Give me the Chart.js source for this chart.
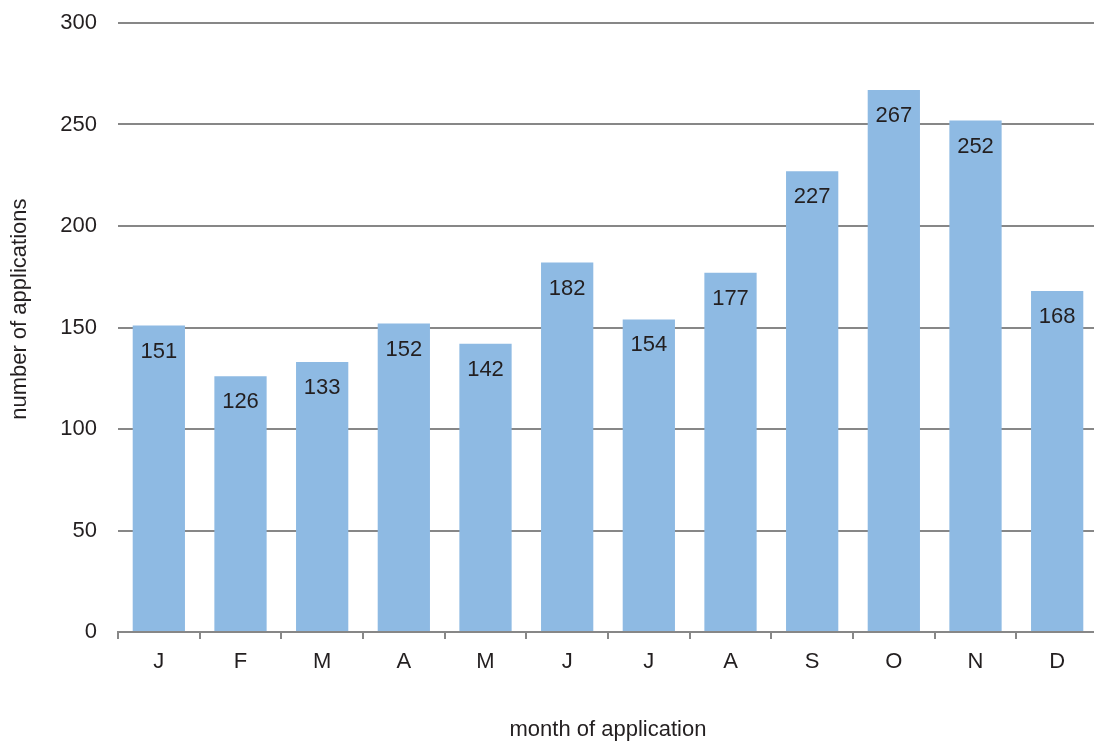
<!DOCTYPE html>
<html>
<head>
<meta charset="utf-8">
<script src="https://cdn.jsdelivr.net/npm/chart.js@4.4.0/dist/chart.umd.min.js"></script>
<style>
    html, body { margin: 0; padding: 0; background: #fff; overflow: hidden; }
    #wrap { width: 1098px; height: 743px; }
</style>
</head>
<body>
<div id="wrap"><canvas id="appChart" width="1098" height="743"></canvas></div>
<script>
const months = ["J", "F", "M", "A", "M", "J", "J", "A", "S", "O", "N", "D"];
const applications = [151, 126, 133, 152, 142, 182, 154, 177, 227, 267, 252, 168];
const yTicks = [0, 50, 100, 150, 200, 250, 300];

const textColor = "#231f20";
const fontFamily = "'Liberation Sans', Arial, Helvetica, sans-serif";
const fontSize = 22;

// value labels inside the top of each bar
const barLabels = {
    id: 'barLabels',
    afterDatasetsDraw(chart) {
        const ctx = chart.ctx;
        const meta = chart.getDatasetMeta(0);
        ctx.save();
        ctx.font = fontSize + "px " + fontFamily;
        ctx.fillStyle = textColor;
        ctx.textAlign = "center";
        ctx.textBaseline = "middle";
        meta.data.forEach((bar, i) => {
            ctx.fillText(String(applications[i]), bar.x, bar.y + 26);
        });
        ctx.restore();
    }
};

new Chart(document.getElementById('appChart'), {
    type: 'bar',
    data: {
        labels: months,
        datasets: [{
            data: applications,
            backgroundColor: "#8ebae3",
            borderWidth: 0,
            categoryPercentage: 1,
            barPercentage: 0.64
        }]
    },
    options: {
        responsive: false,
        animation: false,
        devicePixelRatio: 1,
        layout: { padding: { top: 23, right: 0, bottom: 0, left: 0 } },
        plugins: {
            legend: { display: false },
            tooltip: { enabled: false }
        },
        scales: {
            x: {
                afterFit: (scale) => { scale.height = 111; },
                grid: {
                    offset: true,
                    drawOnChartArea: false,
                    drawTicks: true,
                    tickLength: 7,
                    color: "#878787",
                    lineWidth: 2
                },
                border: { display: true, color: "#878787", width: 2 },
                ticks: {
                    color: textColor,
                    font: { size: fontSize, family: fontFamily },
                    padding: 10,
                    maxRotation: 0
                },
                title: {
                    display: true,
                    text: "month of application",
                    color: textColor,
                    font: { size: fontSize, family: fontFamily },
                    padding: { top: 0, bottom: 0 }
                }
            },
            y: {
                min: 0,
                max: 300,
                afterFit: (scale) => {
                    scale.width = 118;
                    scale.paddingTop = 0;
                    scale.paddingBottom = 0;
                },
                afterBuildTicks: (scale) => { scale.ticks = yTicks.map(v => ({ value: v })); },
                grid: {
                    drawTicks: false,
                    color: (c) => c.tick && c.tick.value === 0 ? "rgba(0,0,0,0)" : "#878787",
                    lineWidth: 2
                },
                border: { display: false },
                ticks: {
                    color: textColor,
                    font: { size: fontSize, family: fontFamily },
                    padding: 21
                },
                title: {
                    display: true,
                    text: "      number of applications",
                    color: textColor,
                    font: { size: fontSize, family: fontFamily },
                    padding: { top: 7, bottom: 0 }
                }
            }
        }
    },
    plugins: [barLabels]
});
</script>
</body>
</html>
